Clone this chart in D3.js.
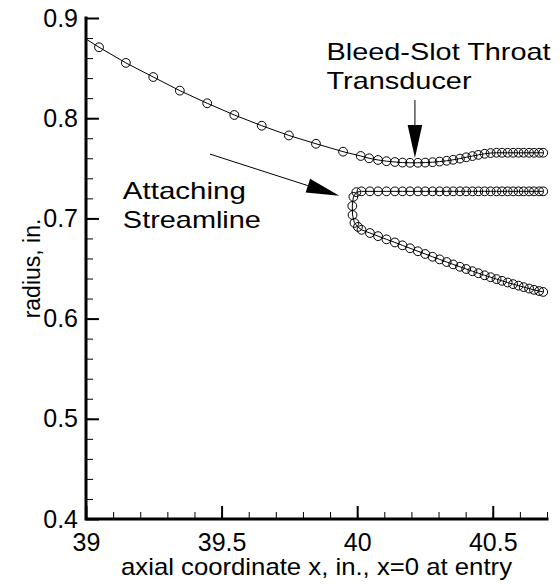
<!DOCTYPE html>
<html>
<head>
<meta charset="utf-8">
<script src="https://cdn.jsdelivr.net/npm/d3@7"></script>
<style>
  html, body { margin: 0; padding: 0; background: #fff; }
  svg { display: block; font-family: "Liberation Sans", Arial, Helvetica, sans-serif; }
</style>
</head>
<body>
<svg id="chart" width="560" height="584"></svg>
<script>
// ---------------- data ----------------
// Bleed-slot wall (upper curve); first point carries the line to the axis only
const wallX = [39.0, 39.048, 39.147, 39.248, 39.346, 39.447, 39.547, 39.648, 39.748, 39.848, 39.948,
  40.013, 40.044, 40.077, 40.108, 40.139, 40.167, 40.195, 40.224, 40.251, 40.278, 40.304, 40.330,
  40.354, 40.379, 40.402, 40.425, 40.447, 40.470, 40.492, 40.514, 40.534, 40.555, 40.575, 40.595,
  40.614, 40.634, 40.652, 40.671, 40.686];
const wallR = [0.8790, 0.8708, 0.8552, 0.8411, 0.8275, 0.8149, 0.8032, 0.7925, 0.7828, 0.7745, 0.7666,
  0.7623, 0.7600, 0.7583, 0.7571, 0.7563, 0.7557, 0.7555, 0.7555, 0.7557, 0.7561, 0.7567, 0.7575,
  0.7585, 0.7597, 0.7610, 0.7622, 0.7634, 0.7645, 0.7652, 0.7655, 0.7655, 0.7655, 0.7655, 0.7655,
  0.7655, 0.7655, 0.7655, 0.7655, 0.7655];

// Attaching streamline: lower branch (right to left), turn, then flat upper branch (left to right)
const streamX = [40.686, 40.671, 40.652, 40.634, 40.614, 40.595, 40.575, 40.555, 40.534, 40.514,
  40.492, 40.470, 40.447, 40.425, 40.402, 40.379, 40.354, 40.330, 40.304, 40.278, 40.251, 40.224,
  40.195, 40.167, 40.139, 40.108, 40.077, 40.047, 40.016,
  40.003, 39.990, 39.983, 39.982, 39.986, 39.997,
  40.016, 40.047, 40.077, 40.108, 40.139, 40.167, 40.195, 40.224, 40.251, 40.278, 40.304, 40.330,
  40.354, 40.379, 40.402, 40.425, 40.447, 40.470, 40.492, 40.514, 40.534, 40.555, 40.575, 40.595,
  40.614, 40.634, 40.652, 40.671, 40.686];
const streamR = [0.6266, 0.6275, 0.6287, 0.6300, 0.6314, 0.6329, 0.6344, 0.6360, 0.6377, 0.6394,
  0.6413, 0.6432, 0.6453, 0.6473, 0.6495, 0.6517, 0.6541, 0.6565, 0.6591, 0.6617, 0.6645, 0.6672,
  0.6702, 0.6731, 0.6760, 0.6791, 0.6823, 0.6854, 0.6886,
  0.6915, 0.6955, 0.7034, 0.7124, 0.7215, 0.7262,
  0.7270, 0.7270, 0.7270, 0.7270, 0.7270, 0.7270, 0.7270, 0.7270, 0.7270, 0.7270, 0.7270, 0.7270,
  0.7270, 0.7270, 0.7270, 0.7270, 0.7270, 0.7270, 0.7270, 0.7270, 0.7270, 0.7270, 0.7270, 0.7270,
  0.7270, 0.7270, 0.7270, 0.7270, 0.7270];

const xMajorTicks = [39, 39.5, 40, 40.5];
const xTickLabels = ["39", "39.5", "40", "40.5"];
const yMajorTicks = [0.4, 0.5, 0.6, 0.7, 0.8, 0.9];
const yTickLabels = ["0.4", "0.5", "0.6", "0.7", "0.8", "0.9"];
const xMinorTicks = d3.range(0, 18).map(i => +(39 + i * 0.1).toFixed(2));
const yMinorTicks = d3.range(0, 26).map(i => +(0.4 + i * 0.02).toFixed(2));

const xTitle = "axial coordinate x, in., x=0 at entry";
const yTitle = "radius, in.";
const noteBleed = ["Bleed-Slot Throat", "Transducer"];
const noteAttach = ["Attaching", "Streamline"];

// ---------------- layout ----------------
const svg = d3.select("#chart");
const x = d3.scaleLinear().domain([39, 40.7]).range([86, 547]);
const y = d3.scaleLinear().domain([0.4, 0.9]).range([519, 18]);
const FS = 25;

// minor ticks
svg.append("g").attr("transform", `translate(0,${y(0.4)})`)
  .call(d3.axisBottom(x).tickValues(xMinorTicks).tickSize(-7).tickFormat(""))
  .call(g => g.select(".domain").remove())
  .call(g => g.selectAll("line").attr("stroke", "#000").attr("stroke-width", 1));
svg.append("g").attr("transform", `translate(${x(39)},0)`)
  .call(d3.axisLeft(y).tickValues(yMinorTicks).tickSize(-7).tickFormat(""))
  .call(g => g.select(".domain").remove())
  .call(g => g.selectAll("line").attr("stroke", "#000").attr("stroke-width", 1));

// major ticks + labels
svg.append("g").attr("transform", `translate(0,${y(0.4)})`)
  .call(d3.axisBottom(x).tickValues(xMajorTicks).tickSize(-13).tickPadding(14)
    .tickFormat((d, i) => xTickLabels[i]))
  .call(g => g.select(".domain").remove())
  .call(g => g.selectAll("line").attr("stroke", "#000").attr("stroke-width", 2))
  .call(g => g.selectAll("text").attr("fill", "#000").attr("font-size", FS)
    .attr("font-family", "Liberation Sans, Arial, sans-serif"));
svg.append("g").attr("transform", `translate(${x(39)},0)`)
  .call(d3.axisLeft(y).tickValues(yMajorTicks).tickSize(-13).tickPadding(8)
    .tickFormat((d, i) => yTickLabels[i]))
  .call(g => g.select(".domain").remove())
  .call(g => g.selectAll("line").attr("stroke", "#000").attr("stroke-width", 2))
  .call(g => g.selectAll("text").attr("fill", "#000").attr("font-size", FS)
    .attr("font-family", "Liberation Sans, Arial, sans-serif"));

// axis lines (thick)
svg.append("path")
  .attr("d", `M${x(39)},${y(0.9)}V${y(0.4)}H${x(40.7)}`)
  .attr("fill", "none").attr("stroke", "#000").attr("stroke-width", 3)
  .attr("stroke-linecap", "square").attr("stroke-linejoin", "miter");

// axis titles
svg.append("text")
  .attr("x", (x(39) + x(40.7)) / 2).attr("y", 575)
  .attr("text-anchor", "middle").attr("font-size", 24)
  .attr("textLength", 391).attr("lengthAdjust", "spacingAndGlyphs")
  .text(xTitle);
svg.append("text")
  .attr("transform", `translate(40,${(y(0.4) + y(0.9)) / 2}) rotate(-90)`)
  .attr("text-anchor", "middle").attr("font-size", 23)
  .text(yTitle);

// ---------------- curves ----------------
const line = d3.line().x(d => x(d[0])).y(d => y(d[1]));
const wall = wallX.map((v, i) => [v, wallR[i]]);
const stream = streamX.map((v, i) => [v, streamR[i]]);

[wall, stream].forEach(pts => {
  svg.append("path").datum(pts).attr("d", line)
    .attr("fill", "none").attr("stroke", "#000").attr("stroke-width", 1);
});
const marks = wall.slice(1).concat(stream);
svg.append("g").selectAll("circle").data(marks).join("circle")
  .attr("cx", d => x(d[0])).attr("cy", d => y(d[1])).attr("r", 4.4)
  .attr("fill", "none").attr("stroke", "#000").attr("stroke-width", 1);

// ---------------- annotations ----------------
function arrow(x0, y0, x1, y1) {
  const px0 = x(x0), py0 = y(y0), px1 = x(x1), py1 = y(y1);
  const dx = px1 - px0, dy = py1 - py0, L = Math.hypot(dx, dy);
  const ux = dx / L, uy = dy / L, hl = 33, hw = 7.3;
  const bx = px1 - ux * hl, by = py1 - uy * hl;
  svg.append("line").attr("x1", px0).attr("y1", py0).attr("x2", bx).attr("y2", by)
    .attr("stroke", "#000").attr("stroke-width", 1);
  svg.append("path")
    .attr("d", `M${px1},${py1}L${bx - uy * hw},${by + ux * hw}L${bx + uy * hw},${by - ux * hw}Z`)
    .attr("fill", "#000");
}
arrow(40.213, 0.8182, 40.213, 0.7602);
arrow(39.457, 0.7642, 39.934, 0.7226);

function note(lines, xv, yv, lens) {
  lines.forEach((t, i) => {
    svg.append("text").attr("x", x(xv)).attr("y", y(yv) + i * 28.7)
      .attr("font-size", 24).attr("textLength", lens[i]).attr("lengthAdjust", "spacingAndGlyphs")
      .text(t);
  });
}
note(noteBleed, 39.887, 0.8581, [224, 145]);
note(noteAttach, 39.136, 0.7191, [123, 138]);
</script>
</body>
</html>
